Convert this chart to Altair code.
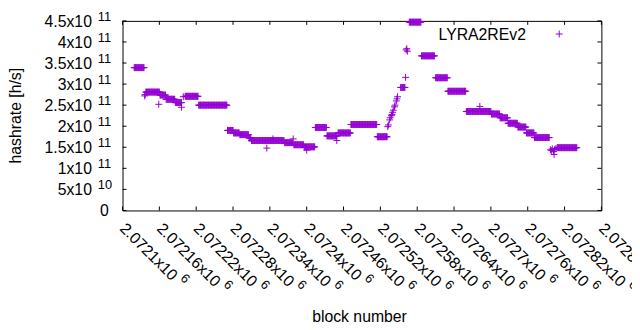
import altair as alt
import pandas as pd
import numpy as np

# ---- data ----
# plateaus of the hashrate estimate (block range, value in 1e9 h/s)
seg_start = [2072119, 2072138, 2072161, 2072171, 2072186, 2072202, 2072224, 2072271, 2072281, 2072291,
             2072306, 2072310, 2072364, 2072379, 2072396, 2072414, 2072433, 2072451, 2072472, 2072515,
             2072553, 2072567, 2072587, 2072610, 2072630, 2072660, 2072701, 2072715, 2072728, 2072744,
             2072758, 2072771, 2072808]
seg_end = [2072135, 2072160, 2072170, 2072185, 2072196, 2072223, 2072270, 2072280, 2072290, 2072305,
           2072309, 2072363, 2072377, 2072395, 2072413, 2072432, 2072449, 2072471, 2072514, 2072531,
           2072560, 2072586, 2072608, 2072629, 2072659, 2072700, 2072714, 2072727, 2072743, 2072757,
           2072770, 2072795, 2072840]
seg_rate = [339, 281, 274, 264, 256, 271, 250, 190, 184, 180,
            172, 166, 161, 156, 151, 197, 177, 184, 204, 175,
            292, 447, 367, 315, 283, 235, 229, 220, 207, 198,
            184, 173, 149]

# isolated points (block, value in 1e9 h/s)
extra_block = [2072136, 2072137, 2072159, 2072196, 2072199, 2072335, 2072345, 2072378, 2072400, 2072449,
               2072532, 2072533, 2072535, 2072536, 2072538, 2072539, 2072540, 2072541, 2072543, 2072544,
               2072546, 2072547, 2072548, 2072561, 2072562, 2072563, 2072564, 2072682,
               2072797, 2072799, 2072800, 2072802, 2072803, 2072804, 2072806]
extra_rate = [272, 275, 252, 245, 270, 148, 170, 170, 143, 166,
              199, 203, 215, 220, 225, 228, 233, 238, 246, 250,
              260, 265, 270, 316, 381, 384, 378, 247,
              144, 142, 146, 140, 133, 145, 147]

series_name = "LYRA2REv2"

x_ticks = [2072100, 2072160, 2072220, 2072280, 2072340, 2072400, 2072460, 2072520,
           2072580, 2072640, 2072700, 2072760, 2072820, 2072880]
x_mant = ["2.0721x10", "2.07216x10", "2.07222x10", "2.07228x10", "2.07234x10", "2.0724x10",
          "2.07246x10", "2.07252x10", "2.07258x10", "2.07264x10", "2.0727x10", "2.07276x10",
          "2.07282x10", "2.07288x10"]
x_exp = "6"

y_ticks = [0, 5e10, 1e11, 1.5e11, 2e11, 2.5e11, 3e11, 3.5e11, 4e11, 4.5e11]
y_mant = ["0", "5x10", "1x10", "1.5x10", "2x10", "2.5x10", "3x10", "3.5x10", "4x10", "4.5x10"]
y_exp = ["", "10", "11", "11", "11", "11", "11", "11", "11", "11"]

# ---- tables ----
blocks, rates = [], []
for s, e, r in zip(seg_start, seg_end, seg_rate):
    for b in range(s, e + 1):
        blocks.append(b)
        rates.append(r * 1e9)
blocks += extra_block
rates += [r * 1e9 for r in extra_rate]
pts = pd.DataFrame({"block": blocks, "rate": rates})

xt = pd.DataFrame({"tick": x_ticks, "mant": x_mant, "exp": [x_exp] * len(x_ticks),
                   "long": [len(m) > 9 for m in x_mant]})
yt = pd.DataFrame({"tick": y_ticks, "mant": y_mant, "exp": y_exp})

W, H = 485, 192
PURPLE = "#9400d3"
FONT = "Liberation Sans"
PLUS = "M-1,0L1,0M0,-1L0,1"

xs = alt.Scale(domain=[2072100, 2072880], nice=False, zero=False)
ys = alt.Scale(domain=[0, 4.5e11], nice=False, zero=False)

points = alt.Chart(pts).mark_point(shape=PLUS, size=49, filled=False, color=PURPLE,
                                   strokeWidth=1, opacity=1, clip=False).encode(
    x=alt.X("block:Q", scale=xs, axis=None),
    y=alt.Y("rate:Q", scale=ys, axis=None),
)

yl_tick = alt.Chart(yt).mark_rule(color="black", strokeWidth=1).encode(
    y=alt.Y("tick:Q", scale=ys, axis=None), x=alt.value(0), x2=alt.value(4))
yr_tick = alt.Chart(yt).mark_rule(color="black", strokeWidth=1).encode(
    y=alt.Y("tick:Q", scale=ys, axis=None), x=alt.value(W - 4), x2=alt.value(W))
xb_tick = alt.Chart(xt).mark_rule(color="black", strokeWidth=1).encode(
    x=alt.X("tick:Q", scale=xs, axis=None), y=alt.value(H - 4), y2=alt.value(H))
xt_tick = alt.Chart(xt).mark_rule(color="black", strokeWidth=1).encode(
    x=alt.X("tick:Q", scale=xs, axis=None), y=alt.value(0), y2=alt.value(4))

y_lab = alt.Chart(yt).transform_filter("datum.exp != ''").mark_text(
    font=FONT, fontSize=16, align="right", baseline="middle", dy=1, color="black").encode(
    y=alt.Y("tick:Q", scale=ys, axis=None), x=alt.value(-31), text="mant:N")
y_lab0 = alt.Chart(yt).transform_filter("datum.exp == ''").mark_text(
    font=FONT, fontSize=16, align="right", baseline="middle", dy=1, color="black").encode(
    y=alt.Y("tick:Q", scale=ys, axis=None), x=alt.value(-14), text="mant:N")
y_exp_l = alt.Chart(yt).transform_filter("datum.exp != ''").mark_text(
    font=FONT, fontSize=13, align="left", baseline="alphabetic", dy=0, color="black").encode(
    y=alt.Y("tick:Q", scale=ys, axis=None), x=alt.value(-25), text="exp:N")

x_lab = alt.Chart(xt).mark_text(
    font=FONT, fontSize=16, align="left", baseline="top", angle=45, dx=4, dy=-4,
    color="black").encode(
    x=alt.X("tick:Q", scale=xs, axis=None), y=alt.value(H + 10), text="mant:N")
x_exp_s = alt.Chart(xt).transform_filter("!datum.long").mark_text(
    font=FONT, fontSize=13, align="left", baseline="top", angle=45, dx=83, dy=-9,
    color="black").encode(
    x=alt.X("tick:Q", scale=xs, axis=None), y=alt.value(H + 10), text="exp:N")
x_exp_l = alt.Chart(xt).transform_filter("datum.long").mark_text(
    font=FONT, fontSize=13, align="left", baseline="top", angle=45, dx=92, dy=-9,
    color="black").encode(
    x=alt.X("tick:Q", scale=xs, axis=None), y=alt.value(H + 10), text="exp:N")

one = pd.DataFrame({"name": [series_name], "ytitle": ["hashrate [h/s]"], "xtitle": ["block number"]})
y_title = alt.Chart(one).mark_text(font=FONT, fontSize=16, angle=270, align="center",
                                   baseline="middle", color="black").encode(
    x=alt.value(-108), y=alt.value(H / 2), text="ytitle:N")
x_title = alt.Chart(one).mark_text(font=FONT, fontSize=16, align="center",
                                   baseline="middle", color="black").encode(
    x=alt.value(240), y=alt.value(300), text="xtitle:N")
leg_text = alt.Chart(one).mark_text(font=FONT, fontSize=16, align="right",
                                    baseline="middle", color="black").encode(
    x=alt.value(408.6), y=alt.value(14), text="name:N")
leg_sym = alt.Chart(one).mark_point(shape=PLUS, size=49, filled=False, color=PURPLE,
                                    strokeWidth=1, opacity=1).encode(
    x=alt.value(442.3), y=alt.value(13.3))

chart = alt.layer(
    yl_tick, yr_tick, xb_tick, xt_tick,
    points,
    y_lab, y_lab0, y_exp_l, x_lab, x_exp_s, x_exp_l,
    y_title, x_title, leg_text, leg_sym,
).properties(
    width=W, height=H,
    autosize=alt.AutoSizeParams(type="none"),
    padding={"left": 116, "top": 11, "right": 31, "bottom": 118},
    background="white",
).configure_view(stroke="black", strokeWidth=1)

chart.save("out.html", embed_options={"renderer": "svg", "actions": False})
